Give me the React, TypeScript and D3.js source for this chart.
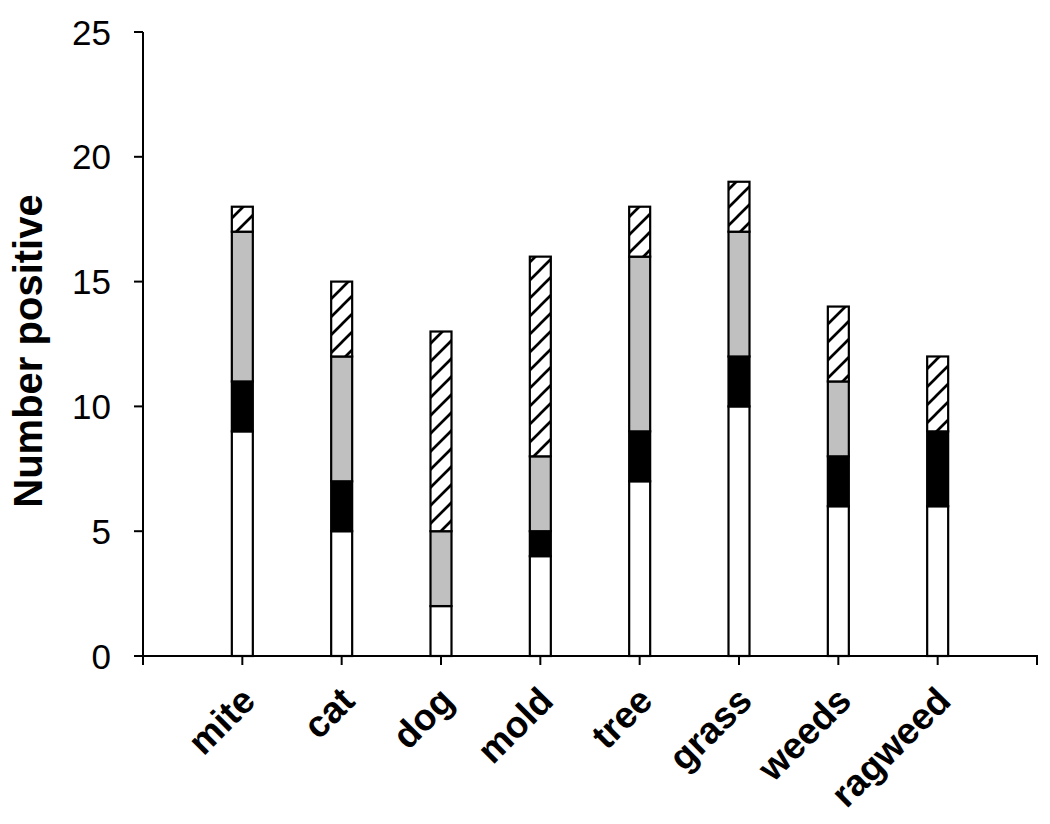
import React from "react";
import * as d3 from "d3";

const categories = ["mite", "cat", "dog", "mold", "tree", "grass", "weeds", "ragweed"];
const whiteVals = [9, 5, 2, 4, 7, 10, 6, 6];
const blackVals = [2, 2, 0, 1, 2, 2, 2, 3];
const grayVals = [6, 5, 3, 3, 7, 5, 3, 0];
const hatchVals = [1, 3, 8, 8, 2, 2, 3, 3];
const yTicks = [0, 5, 10, 15, 20, 25];
const seriesKeys = ["white", "black", "gray", "hatch"];
const fills: Record<string, string> = {
  white: "#ffffff",
  black: "#000000",
  gray: "#c0c0c0",
  hatch: "url(#hatch)",
};

const W = 1050;
const H = 824;

export default function App() {
  const x = d3.scaleLinear().domain([0, categories.length + 1]).range([143, 1037]);
  const y = d3.scaleLinear().domain([0, 25]).range([656, 32]);
  const rows = categories.map((c, i) => ({
    cat: c,
    white: whiteVals[i],
    black: blackVals[i],
    gray: grayVals[i],
    hatch: hatchVals[i],
  }));
  const stacked = d3.stack<any>().keys(seriesKeys)(rows);
  const barW = 21;
  const xTicks = d3.range(0, categories.length + 2);
  const font = "Arial, 'Liberation Sans', sans-serif";

  return (
    <svg width={W} height={H} style={{ position: "absolute", left: 0, top: 0, background: "#fff" }}>
      <defs>
        <pattern id="hatch" patternUnits="userSpaceOnUse" width={18} height={18}>
          <rect width={18} height={18} fill="#fff" />
          <path
            d="M-4.5,4.5 L4.5,-4.5 M0,18 L18,0 M13.5,22.5 L22.5,13.5"
            stroke="#000"
            strokeWidth={2.7}
          />
        </pattern>
      </defs>
      {stacked.map((s) => (
        <g key={s.key}>
          {s.map((d, i) =>
            d[1] - d[0] > 0 ? (
              <rect
                key={i}
                x={x(i + 1) - barW / 2}
                y={y(d[1])}
                width={barW}
                height={y(d[0]) - y(d[1])}
                fill={fills[s.key]}
                stroke="#000"
                strokeWidth={2.2}
              />
            ) : null
          )}
        </g>
      ))}
      {/* y axis */}
      <line x1={x(0)} x2={x(0)} y1={y(25)} y2={y(0)} stroke="#000" strokeWidth={2} />
      {yTicks.map((t) => (
        <g key={t}>
          <line x1={x(0) - 9} x2={x(0)} y1={y(t)} y2={y(t)} stroke="#000" strokeWidth={2} />
          <text
            x={111}
            y={y(t)}
            dy="0.36em"
            textAnchor="end"
            fontFamily={font}
            fontSize={35}
            fill="#000"
          >
            {t}
          </text>
        </g>
      ))}
      {/* x axis */}
      <line x1={x(0) - 1} x2={x(categories.length + 1) + 1} y1={y(0)} y2={y(0)} stroke="#000" strokeWidth={2} />
      {xTicks.map((t) => (
        <line key={t} x1={x(t)} x2={x(t)} y1={y(0)} y2={y(0) + 9} stroke="#000" strokeWidth={2} />
      ))}
      {categories.map((c, i) => (
        <text
          key={c}
          transform={`translate(${x(i + 1) + 15},${y(0) + 47}) rotate(-45)`}
          textAnchor="end"
          fontFamily={font}
          fontWeight="bold"
          fontSize={37}
          fill="#000"
        >
          {c}
        </text>
      ))}
      <text
        transform={`translate(42,351) rotate(-90)`}
        textAnchor="middle"
        fontFamily={font}
        fontWeight="bold"
        fontSize={40}
        fill="#000"
      >
        Number positive
      </text>
    </svg>
  );
}
